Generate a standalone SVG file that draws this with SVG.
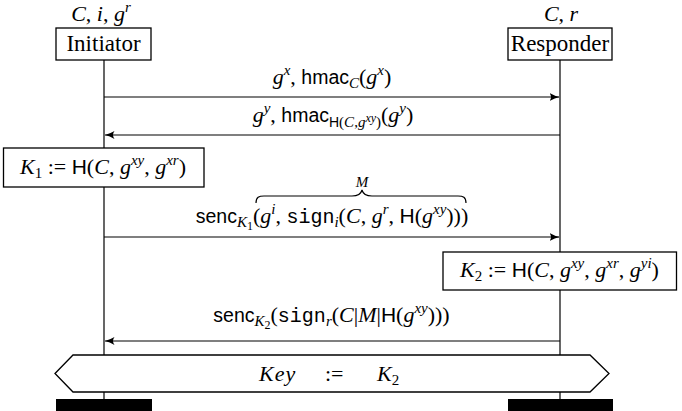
<svg xmlns="http://www.w3.org/2000/svg" width="682" height="411" viewBox="0 0 682 411">
<style>
text{font-family:"Liberation Serif","DejaVu Serif",serif;font-size:22px;fill:#000}
.c{text-anchor:middle}
.mi{font-style:italic}
.nm{font-size:23px}
.sf{font-family:"Liberation Sans","DejaVu Sans",sans-serif;font-size:19.5px}
.tt{font-family:"Liberation Mono","DejaVu Sans Mono",monospace;font-size:20px}
.sp{font-size:15px}
.ss{font-size:12px}
.box{fill:#fff;stroke:#000;stroke-width:1.3}
.line{stroke:#000;stroke-width:1.2;fill:none}
</style>
<defs>
<marker id="ah" markerUnits="userSpaceOnUse" markerWidth="10" markerHeight="10" viewBox="0 0 10 10" refX="9.5" refY="5" orient="auto">
<path d="M0,1 Q5,4 10,5 Q5,6 0,9 Q3,5 0,1 z" fill="#000"/>
</marker>
</defs>
<g id="lifelines">
<line class="line" x1="104" y1="60" x2="104" y2="399"/>
<line class="line" x1="560" y1="60" x2="560" y2="399"/>
</g>
<g id="initiator">
<text class="c" x="101" y="21"><tspan class="mi">C</tspan>, <tspan class="mi">i</tspan>, <tspan class="mi">g</tspan><tspan class="mi sp" dy="-9">r</tspan></text>
<rect class="box" x="56" y="28" width="95" height="32"/>
<text class="c nm" x="103.5" y="51">Initiator</text>
</g>
<g id="responder">
<text class="c" x="561" y="21"><tspan class="mi">C</tspan>, <tspan class="mi">r</tspan></text>
<rect class="box" x="508" y="28" width="104" height="32"/>
<text class="c nm" x="560" y="51">Responder</text>
</g>
<g id="connectors">
<line class="line" x1="104" y1="97" x2="559" y2="97" marker-end="url(#ah)"/>
<line class="line" x1="560" y1="135" x2="105" y2="135" marker-end="url(#ah)"/>
<line class="line" x1="104" y1="237" x2="559" y2="237" marker-end="url(#ah)"/>
<line class="line" x1="560" y1="341" x2="105" y2="341" marker-end="url(#ah)"/>
</g>
<g id="msg1">
<text class="c" x="332" y="84"><tspan class="mi">g</tspan><tspan class="mi sp" dy="-9">x</tspan><tspan dy="9">, </tspan><tspan class="sf">hmac</tspan><tspan class="mi sp" dy="4">C</tspan><tspan dy="-4">(</tspan><tspan class="mi">g</tspan><tspan class="mi sp" dy="-9">x</tspan><tspan dy="9">)</tspan></text>
</g>
<g id="msg2">
<text class="c" x="333" y="122"><tspan class="mi">g</tspan><tspan class="mi sp" dy="-9">y</tspan><tspan dy="9">, </tspan><tspan class="sf">hmac</tspan><tspan class="sf" style="font-size:14px" dy="5">H</tspan><tspan class="sp">(</tspan><tspan class="mi sp">C</tspan><tspan class="sp">,</tspan><tspan class="mi sp">g</tspan><tspan class="mi ss" dy="-5">xy</tspan><tspan class="sp" dy="5">)</tspan><tspan dy="-5">(</tspan><tspan class="mi">g</tspan><tspan class="mi sp" dy="-9">y</tspan><tspan dy="9">)</tspan></text>
</g>
<g id="k1">
<rect class="box" x="3.5" y="148" width="200.5" height="39"/>
<text class="c" x="103" y="174"><tspan class="mi">K</tspan><tspan class="sp" dy="4">1</tspan><tspan dy="-4"> := </tspan><tspan class="sf" style="font-size:21px">H</tspan>(<tspan class="mi">C</tspan>, <tspan class="mi">g</tspan><tspan class="mi sp" dy="-9">xy</tspan><tspan dy="9">, </tspan><tspan class="mi">g</tspan><tspan class="mi sp" dy="-9">xr</tspan><tspan dy="9">)</tspan></text>
</g>
<g id="msg3">
<text class="c mi" x="362" y="187" style="font-size:15px">M</text>
<path class="line" d="M256,203 C256,197 259,196 264,196 L352,196 C358,196 361,194 362,190 C363,194 366,196 372,196 L458,196 C463,196 466,197 466,203"/>
<text class="c" x="332" y="223"><tspan class="sf">senc</tspan><tspan class="mi sp" dy="4">K</tspan><tspan class="ss" dy="3">1</tspan><tspan dy="-7">(</tspan><tspan class="mi">g</tspan><tspan class="mi sp" dy="-9">i</tspan><tspan dy="9">, </tspan><tspan class="tt">sign</tspan><tspan class="mi sp" dy="4">i</tspan><tspan dy="-4">(</tspan><tspan class="mi">C</tspan>, <tspan class="mi">g</tspan><tspan class="mi sp" dy="-9">r</tspan><tspan dy="9">, </tspan><tspan class="sf" style="font-size:21px">H</tspan>(<tspan class="mi">g</tspan><tspan class="mi sp" dy="-9">xy</tspan><tspan dy="9">)))</tspan></text>
</g>
<g id="k2">
<rect class="box" x="443" y="252" width="233.5" height="38"/>
<text class="c" x="559.5" y="277"><tspan class="mi">K</tspan><tspan class="sp" dy="4">2</tspan><tspan dy="-4"> := </tspan><tspan class="sf" style="font-size:21px">H</tspan>(<tspan class="mi">C</tspan>, <tspan class="mi">g</tspan><tspan class="mi sp" dy="-9">xy</tspan><tspan dy="9">, </tspan><tspan class="mi">g</tspan><tspan class="mi sp" dy="-9">xr</tspan><tspan dy="9">, </tspan><tspan class="mi">g</tspan><tspan class="mi sp" dy="-9">yi</tspan><tspan dy="9">)</tspan></text>
</g>
<g id="msg4">
<text class="c" x="331.5" y="322"><tspan class="sf">senc</tspan><tspan class="mi sp" dy="4">K</tspan><tspan class="ss" dy="3">2</tspan><tspan dy="-7">(</tspan><tspan class="tt">sign</tspan><tspan class="mi sp" dy="4">r</tspan><tspan dy="-4">(</tspan><tspan class="mi">C</tspan>|<tspan class="mi">M</tspan>|<tspan class="sf" style="font-size:21px">H</tspan>(<tspan class="mi">g</tspan><tspan class="mi sp" dy="-9">xy</tspan><tspan dy="9">)))</tspan></text>
</g>
<g id="key">
<polygon class="box" points="55,373.5 73,355 590,355 609,373.5 590,392 73,392"/>
<text x="259" y="381" class="mi" style="letter-spacing:1px">Key</text>
<text x="325" y="381">:=</text>
<text x="377" y="381"><tspan class="mi">K</tspan><tspan class="sp" dy="4">2</tspan></text>
</g>
<g id="ends">
<rect x="56" y="399" width="96" height="12" fill="#000"/>
<rect x="508" y="399" width="105" height="12" fill="#000"/>
</g>
</svg>
